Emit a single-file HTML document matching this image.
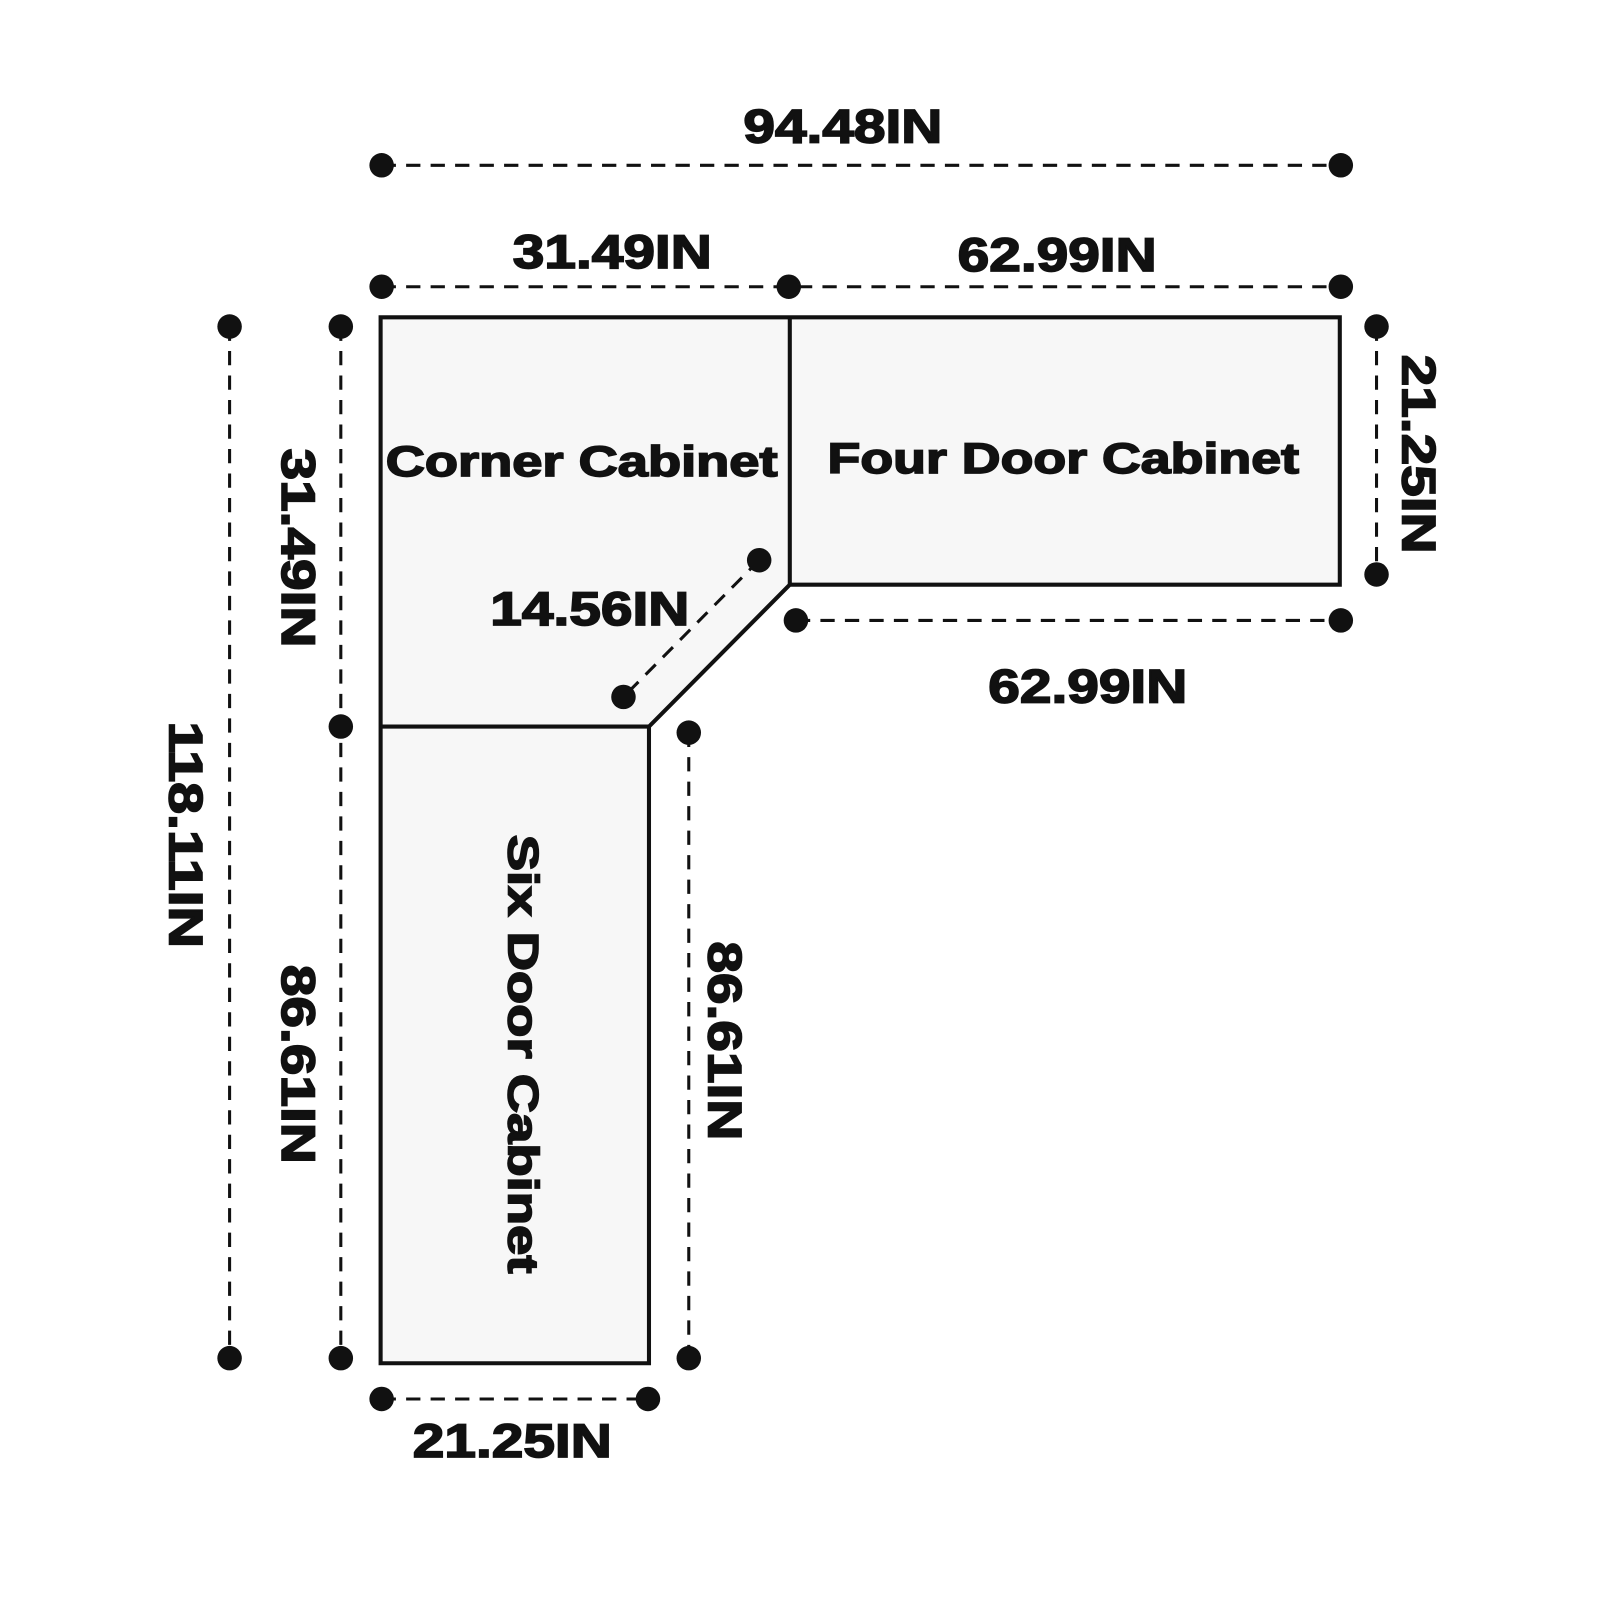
<!DOCTYPE html>
<html><head><meta charset="utf-8"><style>
html,body{margin:0;padding:0;background:#fff;width:1600px;height:1600px;overflow:hidden}
svg{display:block}
text{font-family:"Liberation Sans",Arial,sans-serif;font-weight:bold;fill:#111;stroke:#111;stroke-width:1.6;font-size:46px;text-anchor:middle;dominant-baseline:central}
.l{font-size:42px}
</style></head><body>
<svg width="1600" height="1600" viewBox="0 0 1568 1568" xmlns="http://www.w3.org/2000/svg">
<polygon points="373,311 1313,311 1313,573 774,573 636,712 636,1336 373,1336" fill="#f7f7f7" stroke="#111" stroke-width="4"/>
<line x1="774" y1="311" x2="774" y2="573" stroke="#111" stroke-width="4"/>
<line x1="373" y1="712" x2="636" y2="712" stroke="#111" stroke-width="4"/>
<g stroke="#111" stroke-width="3" stroke-dasharray="14 10" fill="none">
<line x1="374" y1="162" x2="1314" y2="162"/>
<line x1="374" y1="281" x2="1314" y2="281"/>
<line x1="1349" y1="320" x2="1349" y2="563"/>
<line x1="780" y1="608" x2="1314" y2="608"/>
<line x1="744" y1="549" x2="611" y2="683"/>
<line x1="225" y1="320" x2="225" y2="1331"/>
<line x1="334" y1="320" x2="334" y2="1331"/>
<line x1="675" y1="718" x2="675" y2="1331"/>
<line x1="374" y1="1371" x2="635" y2="1371"/>
</g>
<g fill="#111">
<circle cx="374" cy="162" r="12"/><circle cx="1314" cy="162" r="12"/>
<circle cx="374" cy="281" r="12"/><circle cx="773" cy="281" r="12"/><circle cx="1314" cy="281" r="12"/>
<circle cx="1349" cy="320" r="12"/><circle cx="1349" cy="563" r="12"/>
<circle cx="780" cy="608" r="12"/><circle cx="1314" cy="608" r="12"/>
<circle cx="744" cy="549" r="12"/><circle cx="611" cy="683" r="12"/>
<circle cx="225" cy="320" r="12"/><circle cx="225" cy="1331" r="12"/>
<circle cx="334" cy="320" r="12"/><circle cx="334" cy="712" r="12"/><circle cx="334" cy="1331" r="12"/>
<circle cx="675" cy="718" r="12"/><circle cx="675" cy="1331" r="12"/>
<circle cx="374" cy="1371" r="12"/><circle cx="635" cy="1371" r="12"/>
</g>
<text x="826" y="124" textLength="195" lengthAdjust="spacingAndGlyphs">94.48IN</text>
<text x="600" y="247" textLength="195" lengthAdjust="spacingAndGlyphs">31.49IN</text>
<text x="1036" y="250" textLength="195" lengthAdjust="spacingAndGlyphs">62.99IN</text>
<text x="1066" y="673" textLength="195" lengthAdjust="spacingAndGlyphs">62.99IN</text>
<text x="578" y="597" textLength="195" lengthAdjust="spacingAndGlyphs">14.56IN</text>
<text x="502" y="1412" textLength="195" lengthAdjust="spacingAndGlyphs">21.25IN</text>
<text transform="translate(1390,445) rotate(90)" textLength="195" lengthAdjust="spacingAndGlyphs">21.25IN</text>
<text transform="translate(182,818) rotate(90)" textLength="222" lengthAdjust="spacingAndGlyphs">118.11IN</text>
<text transform="translate(292,537) rotate(90)" textLength="195" lengthAdjust="spacingAndGlyphs">31.49IN</text>
<text transform="translate(292,1043) rotate(90)" textLength="195" lengthAdjust="spacingAndGlyphs">86.61IN</text>
<text transform="translate(710,1020) rotate(90)" textLength="195" lengthAdjust="spacingAndGlyphs">86.61IN</text>
<text class="l" x="570" y="453" textLength="384" lengthAdjust="spacingAndGlyphs">Corner Cabinet</text>
<text class="l" x="1042" y="450" textLength="462" lengthAdjust="spacingAndGlyphs">Four Door Cabinet</text>
<text class="l" transform="translate(512,1033) rotate(90)" textLength="430" lengthAdjust="spacingAndGlyphs">Six Door Cabinet</text>
</svg>
</body></html>
